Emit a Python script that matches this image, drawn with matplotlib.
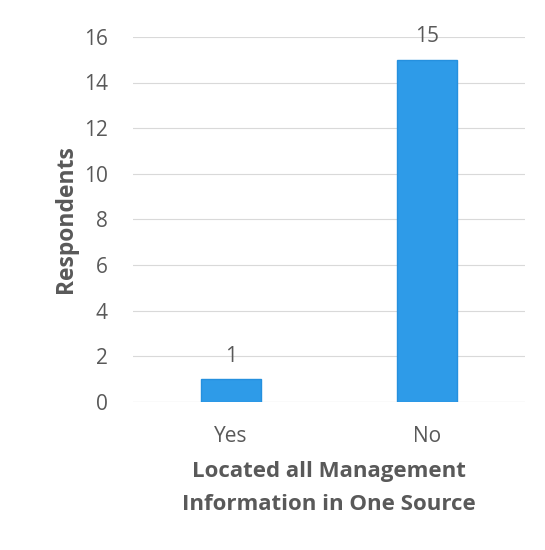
import matplotlib.pyplot as plt

# data
categories = ["Yes", "No"]
respondents = [1, 15]
y_ticks = [0, 2, 4, 6, 8, 10, 12, 14, 16]

plt.rcParams['font.family'] = ['Open Sans', 'DejaVu Sans']
grey = "#595959"

fig = plt.figure(figsize=(5.45, 5.5), dpi=100)
ax = fig.add_axes([0.244, 0.269, 0.719, 0.664])

x = range(len(categories))
bars = ax.bar(x, respondents, width=0.31, color="#2E9BE8", edgecolor="#2590DE",
              linewidth=1, zorder=3)

# value labels above bars
for b, v in zip(bars, respondents):
    ax.text(b.get_x() + b.get_width() / 2, v + 0.55, str(v), ha="center",
            va="bottom", fontsize=15, color=grey)

ax.set_xlim(-0.5, 1.5)
ax.set_ylim(0, 16)
ax.set_yticks(y_ticks)
ax.set_xticks(list(x))
ax.set_xticklabels(categories)
ax.tick_params(axis="both", length=0, labelsize=15, colors=grey)
ax.tick_params(axis="y", pad=18)
ax.tick_params(axis="x", pad=17)
ax.yaxis.grid(True, color="#d9d9d9", linewidth=0.8, zorder=0)
for s in ax.spines.values():
    s.set_visible(False)
ax.axhline(0, color="#d9d9d9", linewidth=0.8, zorder=1)

ax.set_ylabel("Respondents", fontsize=16.5, fontweight="bold", color=grey, labelpad=4)
ax.set_xlabel("Located all Management\nInformation in One Source", fontsize=16,
              fontweight="bold", color=grey, labelpad=10, linespacing=1.75)

fig.savefig("out.png", dpi=100)
